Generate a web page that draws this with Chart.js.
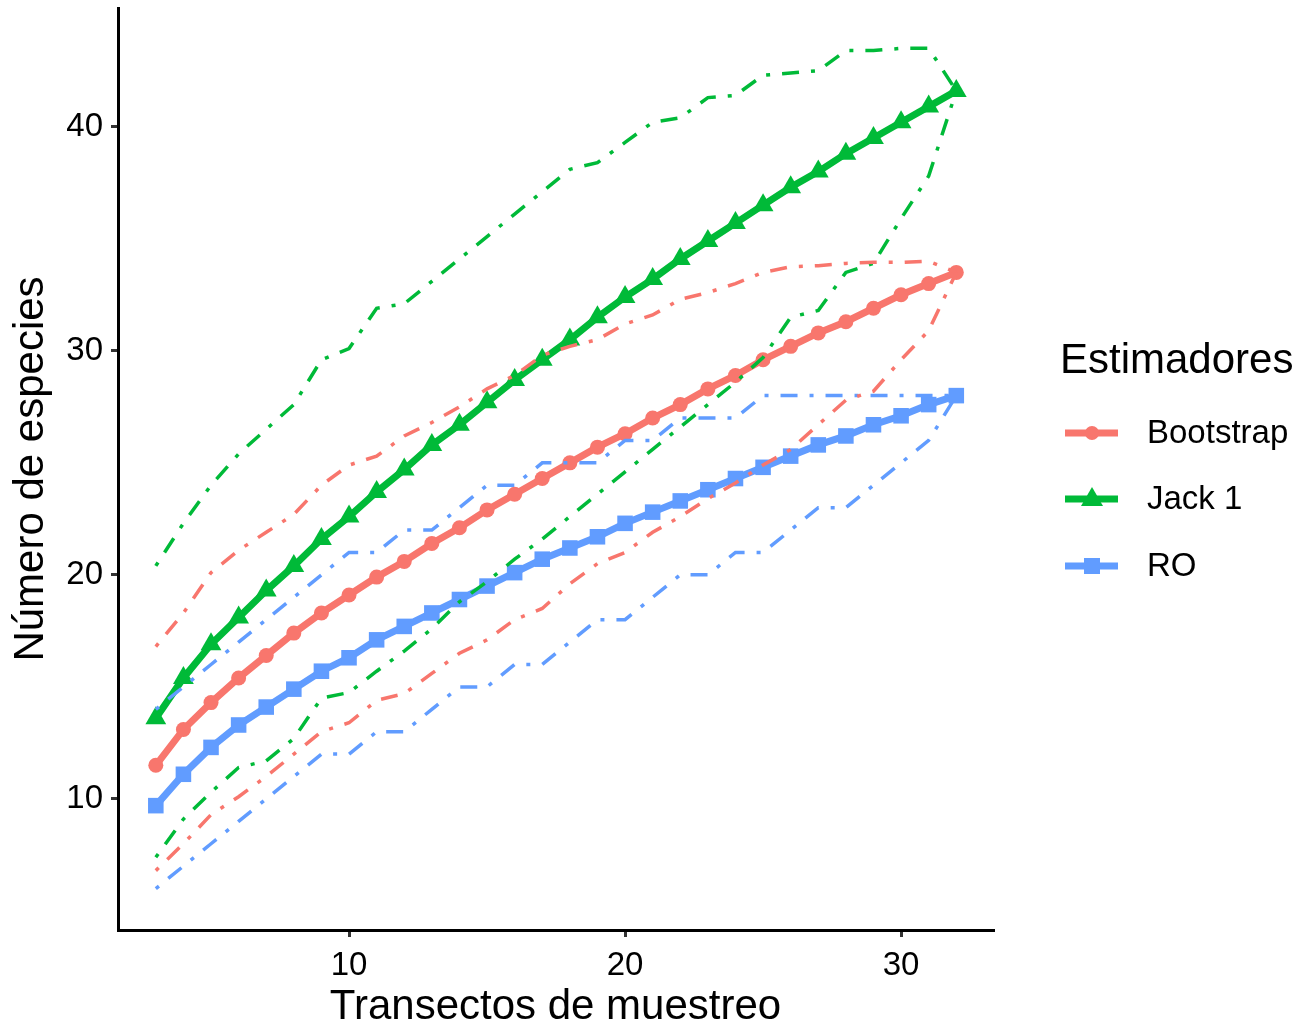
<!DOCTYPE html>
<html>
<head>
<meta charset="utf-8">
<script src="https://cdn.jsdelivr.net/npm/chart.js@4"></script>
<style>
  body { margin: 0; background: #fff; }
  #wrap { width: 1304px; height: 1029px; }
</style>
</head>
<body>
<div id="wrap"><canvas id="myChart"></canvas></div>
<script>
// transects 3..32
var transects = [3,4,5,6,7,8,9,10,11,12,13,14,15,16,17,18,19,20,21,22,23,24,25,26,27,28,29,30,31,32];

var bootstrap = [11.5,13.1,14.3,15.4,16.4,17.4,18.3,19.1,19.9,20.6,21.4,22.1,22.9,23.6,24.3,25.0,25.7,26.3,27.0,27.6,28.3,28.9,29.6,30.2,30.8,31.3,31.9,32.5,33.0,33.5];
var bootLow  = [6.8,8.0,9.3,10.1,11.0,12.0,13.0,13.4,14.4,14.7,15.6,16.5,17.1,18.0,18.5,19.6,20.5,21.0,21.9,22.6,23.4,24.1,24.9,25.6,26.7,27.8,28.2,29.6,30.9,33.5];
var bootHigh = [16.8,18.3,20.1,21.1,21.9,22.7,24.0,24.9,25.3,26.2,26.8,27.5,28.3,28.9,29.8,30.2,30.5,31.2,31.6,32.3,32.6,33.0,33.5,33.75,33.8,33.9,33.95,33.95,34.0,33.5];

var jack1 = [13.6,15.4,16.9,18.1,19.3,20.4,21.6,22.6,23.7,24.7,25.8,26.7,27.7,28.7,29.6,30.5,31.5,32.4,33.2,34.1,34.9,35.7,36.5,37.3,38.0,38.8,39.5,40.2,40.9,41.6];
var jackLow  = [7.4,9.1,10.3,11.4,11.7,12.7,14.5,14.75,15.7,16.6,17.6,18.8,19.7,20.7,21.6,22.6,23.6,24.6,25.6,26.6,27.6,28.6,29.7,31.5,31.8,33.5,33.9,35.9,37.8,41.6];
var jackHigh = [20.4,22.3,24.0,25.4,26.5,27.6,29.6,30.1,31.9,32.1,33.1,34.1,35.1,36.1,37.1,38.1,38.4,39.3,40.2,40.4,41.3,41.4,42.3,42.4,42.5,43.4,43.4,43.5,43.5,41.6];

var ro = [9.7,11.1,12.3,13.3,14.1,14.9,15.7,16.3,17.1,17.7,18.3,18.9,19.5,20.1,20.7,21.2,21.7,22.3,22.8,23.3,23.8,24.3,24.8,25.3,25.8,26.2,26.7,27.1,27.6,28.0];
var roLow  = [6,7,8,9,10,11,12,12,13,13,14,15,15,16,16,17,18,18,19,20,20,21,21,22,23,23,24,25,26,28];
var roHigh = [14,15,16,17,18,19,20,21,21,22,22,23,24,24,25,25,25,26,26,27,27,27,28,28,28,28,28,28,28,28];

var xTicks = [10, 20, 30];
var yTicks = [10, 20, 30, 40];
var legendLabels = ['Bootstrap', 'Jack 1', 'RO'];

var RED = '#F8766D', GREEN = '#00BA38', BLUE = '#619CFF';
var FONT = "'Liberation Sans', Arial, sans-serif";

function pts(arr) {
    return transects.map(function (t, i) { return { x: t, y: arr[i] }; });
}

function mainSet(label, arr, color, style, radius, order) {
    return {
        label: label, data: pts(arr), borderColor: color, backgroundColor: color,
        borderWidth: 7, pointStyle: style, pointRadius: radius, pointHoverRadius: radius,
        pointBorderWidth: 0, tension: 0, order: order
    };
}

function boundSet(arr, color) {
    return {
        data: pts(arr), borderColor: color, backgroundColor: color,
        borderWidth: 3.5, borderDash: [4, 12, 17, 12], pointRadius: 0, tension: 0, order: 0
    };
}

// legend on the right, ggplot style (line + marker)
var legendPlugin = {
    id: 'ggLegend',
    afterDraw: function (chart) {
        var c = chart.ctx;
        c.save();
        c.fillStyle = '#000';
        c.textBaseline = 'middle';
        c.textAlign = 'left';
        c.font = '42px ' + FONT;
        c.fillText('Estimadores', 1060, 361);
        var colors = [RED, GREEN, BLUE];
        var ys = [433, 499, 566];
        c.font = '33px ' + FONT;
        for (var i = 0; i < 3; i++) {
            var y = ys[i];
            c.strokeStyle = colors[i];
            c.fillStyle = colors[i];
            c.lineWidth = 7;
            c.beginPath();
            c.moveTo(1065, y);
            c.lineTo(1118, y);
            c.stroke();
            c.beginPath();
            if (i === 0) {
                c.arc(1092, y, 7, 0, Math.PI * 2);
            } else if (i === 1) {
                c.moveTo(1092, y - 12);
                c.lineTo(1103, y + 7);
                c.lineTo(1081, y + 7);
                c.closePath();
            } else {
                c.rect(1084, y - 8, 16, 16);
            }
            c.fill();
            c.fillStyle = '#000';
            c.fillText(legendLabels[i], 1147, y + 1);
        }
        c.restore();
    }
};

window.onload = function () {
    var ctx = document.getElementById('myChart').getContext('2d');

    new Chart(ctx, {
        type: 'line',
        data: {
            datasets: [
                boundSet(bootLow, RED), boundSet(bootHigh, RED),
                boundSet(jackLow, GREEN), boundSet(jackHigh, GREEN),
                boundSet(roLow, BLUE), boundSet(roHigh, BLUE),
                mainSet('Bootstrap', bootstrap, RED, 'circle', 7.5, 3),
                mainSet('Jack 1', jack1, GREEN, 'triangle', 12, 2),
                mainSet('RO', ro, BLUE, 'rect', 11, 1)
            ]
        },
        options: {
            responsive: true,
            maintainAspectRatio: false,
            animation: false,
            layout: { autoPadding: false, padding: { top: 8, right: 311, left: 0, bottom: 0 } },
            plugins: {
                legend: { display: false },
                tooltip: { enabled: false }
            },
            scales: {
                x: {
                    type: 'linear',
                    min: 1.63,
                    max: 33.33,
                    afterFit: function (scale) {
                        scale.height = 99;
                        scale.paddingLeft = 0;
                        scale.paddingRight = 0;
                    },
                    afterBuildTicks: function (scale) {
                        scale.ticks = xTicks.map(function (v) { return { value: v }; });
                    },
                    border: { display: true, color: '#000', width: 3 },
                    grid: { drawOnChartArea: false, drawTicks: true, tickLength: 7, color: '#333', lineWidth: 3 },
                    ticks: { color: '#000', font: { family: FONT, size: 33 }, padding: 9, maxRotation: 0 },
                    title: { display: true, text: 'Transectos de muestreo', color: '#000',
                             font: { family: FONT, size: 42 }, padding: { top: 0, bottom: -4 } }
                },
                y: {
                    type: 'linear',
                    min: 4.15,
                    max: 45.3,
                    afterFit: function (scale) {
                        scale.width = 118;
                        scale.paddingTop = 0;
                        scale.paddingBottom = 0;
                    },
                    afterBuildTicks: function (scale) {
                        scale.ticks = yTicks.map(function (v) { return { value: v }; });
                    },
                    border: { display: true, color: '#000', width: 3 },
                    grid: { drawOnChartArea: false, drawTicks: true, tickLength: 7, color: '#333', lineWidth: 3 },
                    ticks: { color: '#000', font: { family: FONT, size: 33 }, padding: 8 },
                    title: { display: true, text: 'Número de especies', color: '#000',
                             font: { family: FONT, size: 42 }, padding: { top: 6, bottom: 0 } }
                }
            }
        },
        plugins: [legendPlugin]
    });
};
</script>
</body>
</html>
